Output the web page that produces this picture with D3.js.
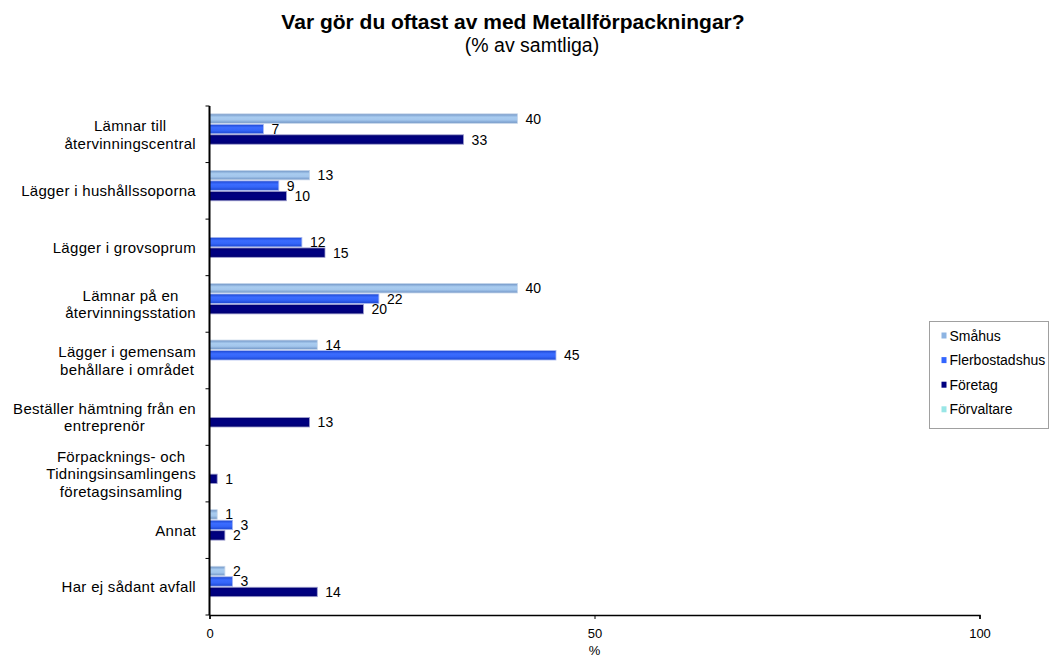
<!DOCTYPE html>
<html>
<head>
<meta charset="utf-8">
<script src="https://cdn.jsdelivr.net/npm/d3@7"></script>
<style>
  html, body { margin: 0; padding: 0; background: #fff; }
  svg { display: block; font-family: "Liberation Sans", Arial, sans-serif; }
</style>
</head>
<body>
<svg id="chart" width="1053" height="659"></svg>
<script>
// Answer categories (multi-line labels split by "\n")
const categories = [
  "Lämnar till\nåtervinningscentral",
  "Lägger i hushållssoporna",
  "Lägger i grovsoprum",
  "Lämnar på en\nåtervinningsstation",
  "Lägger i gemensam\nbehållare i området",
  "Beställer hämtning från en\nentreprenör",
  "Förpacknings- och\nTidningsinsamlingens\nföretagsinsamling",
  "Annat",
  "Har ej sådant avfall"
];

const seriesNames = ["Småhus", "Flerbostadshus", "Företag", "Förvaltare"];

// Percent of all respondents per category (null = no answer shown)
const smahus         = [40, 13, null, 40, 14, null, null, 1, 2];
const flerbostadshus = [7, 9, 12, 22, 45, null, null, 3, 3];
const foretag        = [33, 10, 15, 20, null, 13, 1, 2, 14];
const forvaltare     = [null, null, null, null, null, null, null, null, null];

const xTicks = [0, 50, 100];

const seriesValues = [smahus, flerbostadshus, foretag, forvaltare];

const svg = d3.select("#chart");
const margin = { left: 209.5, right: 979.5, top: 106, bottom: 615 };

// Gradients for the bar fills
const defs = svg.append("defs");
const fills = [
  { id: "g0", stops: ["#6f93c4", "#a9ccf0", "#a3c6ec", "#6f93c4"], stroke: "#c6d6ea" },
  { id: "g1", stops: ["#1c46d0", "#3b6cff", "#3465f8", "#1c46d0"], stroke: "#a8b8f0" },
  { id: "g2", stops: ["#000070", "#000080", "#000080", "#000070"], stroke: "#a0a0d0" },
  { id: "g3", stops: ["#7fcfd6", "#b4ecf0", "#b0e8ec", "#7fcfd6"], stroke: "#d0eef0" }
];
fills.forEach(f => {
  const lg = defs.append("linearGradient").attr("id", f.id)
    .attr("x1", 0).attr("y1", 0).attr("x2", 0).attr("y2", 1);
  [0, 0.35, 0.65, 1].forEach((o, i) =>
    lg.append("stop").attr("offset", o).attr("stop-color", f.stops[i]));
});
const legendColors = ["#8db4e2", "#3366ff", "#000080", "#99e6e6"];

// Scales
const x = d3.scaleLinear().domain([0, 100]).range([margin.left, margin.right]);
const y = d3.scaleBand().domain(d3.range(categories.length))
  .range([margin.top, margin.bottom]).paddingInner(0).paddingOuter(0);
const ySub = d3.scaleBand().domain(d3.range(seriesNames.length))
  .range([0, y.bandwidth()]).paddingInner(0.1).paddingOuter(0.75);

// Title
svg.append("text").attr("x", 513).attr("y", 29).attr("text-anchor", "middle")
  .attr("font-size", 21).attr("font-weight", "bold").attr("fill", "#000")
  .text("Var gör du oftast av med Metallförpackningar?");
svg.append("text").attr("x", 532).attr("y", 52).attr("text-anchor", "middle")
  .attr("font-size", 19.5).attr("fill", "#000")
  .text("(% av samtliga)");

// Bars and value labels
const barData = [];
seriesValues.forEach((vals, s) => {
  vals.forEach((v, c) => {
    if (v !== null && v > 0) barData.push({ s, c, v });
  });
});

svg.append("g").selectAll("rect").data(barData).join("rect")
  .attr("x", x(0))
  .attr("y", d => y(d.c) + ySub(d.s))
  .attr("width", d => x(d.v) - x(0))
  .attr("height", ySub.bandwidth())
  .attr("fill", d => `url(#${fills[d.s].id})`)
  .attr("stroke", d => fills[d.s].stroke)
  .attr("stroke-width", 0.8);

svg.append("g").selectAll("text").data(barData).join("text")
  .attr("x", d => x(d.v) + 8)
  .attr("y", d => y(d.c) + ySub(d.s) + ySub.bandwidth() / 2 + 5)
  .attr("font-size", 14).attr("fill", "#000")
  .text(d => d.v);

// Y axis (line and ticks at category boundaries)
const yAxis = svg.append("g");
yAxis.append("line").attr("x1", x(0)).attr("x2", x(0))
  .attr("y1", margin.top).attr("y2", margin.bottom)
  .attr("stroke", "#000").attr("stroke-width", 2);
d3.range(categories.length + 1).forEach(i => {
  const yy = margin.top + i * y.step();
  yAxis.append("line").attr("x1", x(0) - 4).attr("x2", x(0))
    .attr("y1", yy).attr("y2", yy).attr("stroke", "#000").attr("stroke-width", 1);
});

// Category labels: block right-aligned to the axis, lines centered within the block
const labelRight = 196;
const lineH = 17.5;
categories.forEach((cat, i) => {
  const lines = cat.split("\n");
  const g = svg.append("g");
  const texts = lines.map(l => g.append("text").attr("font-size", 15)
    .attr("letter-spacing", 0.3).attr("fill", "#000").text(l));
  const maxW = d3.max(texts, t => t.node().getComputedTextLength());
  const cx = labelRight - maxW / 2;
  const cy = y(i) + y.bandwidth() / 2;
  texts.forEach((t, j) => {
    t.attr("x", cx).attr("text-anchor", "middle")
      .attr("y", cy + (j - (lines.length - 1) / 2) * lineH + 5.5);
  });
});

// X axis
const xAxis = d3.axisBottom(x).tickValues(xTicks).tickSize(4).tickFormat(d3.format("d"));
const gx = svg.append("g").attr("transform", `translate(0,${margin.bottom})`).call(xAxis);
gx.select(".domain").attr("stroke", "#000").attr("stroke-width", 1.5);
gx.selectAll(".tick line").attr("stroke", "#000");
gx.selectAll(".tick text").attr("font-size", 13).attr("fill", "#000")
  .attr("font-family", "Liberation Sans, Arial, sans-serif").attr("dy", "1.2em");
svg.append("text").attr("x", x(50)).attr("y", 655)
  .attr("text-anchor", "middle").attr("font-size", 13).attr("fill", "#000").text("%");

// Legend
const lg = svg.append("g").attr("transform", "translate(929.5,321.5)");
lg.append("rect").attr("width", 119).attr("height", 107)
  .attr("fill", "#fff").attr("stroke", "#a0a0a0").attr("stroke-width", 1);
seriesNames.forEach((name, i) => {
  const yy = 14 + i * 24.6;
  lg.append("rect").attr("x", 12).attr("y", yy - 3).attr("width", 5).attr("height", 6)
    .attr("fill", legendColors[i]);
  lg.append("text").attr("x", 20).attr("y", yy + 5)
    .attr("font-size", 14).attr("fill", "#000").text(name);
});
</script>
</body>
</html>
